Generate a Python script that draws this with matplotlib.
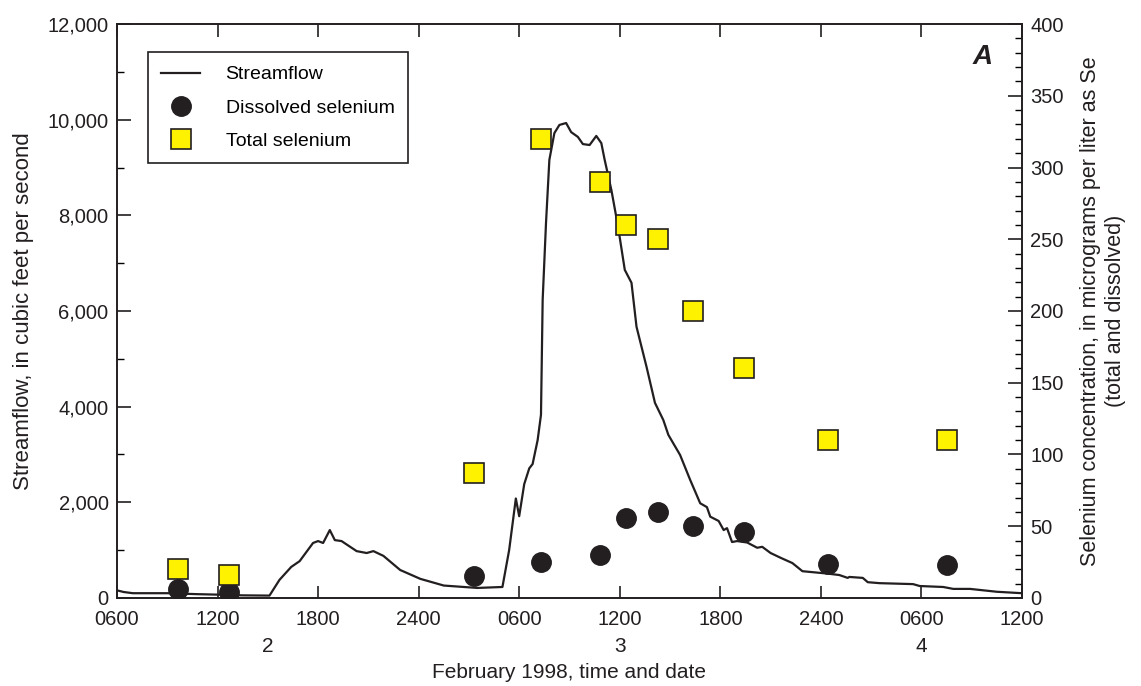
import matplotlib
matplotlib.use("Agg")
import matplotlib.pyplot as plt
from matplotlib.ticker import MultipleLocator, FuncFormatter

plt.rcParams['font.family'] = ['Liberation Sans', 'DejaVu Sans']

# hours since 0600, February 2, 1998
flow_hours = [0.0, 0.4, 0.95, 3.0, 4.8, 6.0, 7.5, 9.1, 9.7, 10.4, 10.9, 11.7, 12.0, 12.3,
              12.7, 13.0, 13.4, 14.3, 14.9, 15.3, 15.9, 16.9, 18.1, 19.5, 21.5, 23.0,
              23.4, 23.8, 24.0, 24.3, 24.6, 24.8, 25.1, 25.3, 25.4, 25.6, 25.8, 26.1,
              26.4, 26.8, 27.1, 27.5, 27.8, 28.2, 28.6, 28.9, 29.1, 29.5, 29.9, 30.3,
              30.7, 31.0, 31.6, 32.1, 32.6, 32.9, 33.6, 34.2, 34.8, 35.2, 35.4, 35.9,
              36.2, 36.4, 36.7, 37.0, 37.6, 38.2, 38.5, 39.0, 39.6, 40.3, 40.9, 42.4,
              43.1, 43.6, 43.7, 44.5, 44.8, 45.5, 47.5, 47.9, 49.3, 49.9, 50.9, 52.5, 54.0]
flow_cfs = [160, 125, 100, 100, 80, 70, 55, 50, 380, 650, 770, 1150, 1190, 1150,
            1420, 1210, 1190, 980, 940, 980, 880, 585, 400, 260, 210, 230,
            1000, 2080, 1710, 2380, 2710, 2800, 3300, 3830, 6230, 7840, 9160, 9720,
            9890, 9930, 9740, 9640, 9490, 9470, 9660, 9510, 9160, 8530, 7760, 6860,
            6590, 5670, 4830, 4080, 3720, 3410, 2990, 2470, 1980, 1900, 1700, 1610,
            1420, 1460, 1170, 1190, 1160, 1050, 1070, 940, 840, 730, 560, 510,
            480, 420, 440, 420, 330, 310, 290, 250, 230, 190, 190, 130, 100]

sample_hours = [3.65, 6.7, 21.3, 25.3, 28.8, 30.35, 32.3, 34.35, 37.4, 42.4, 49.5]
dissolved_se = [6, 4, 15, 25, 30, 56, 60, 50, 46, 24, 23]
total_se = [20, 16, 87, 320, 290, 260, 250, 200, 160, 110, 110]

tick_hours = list(range(0, 55, 6))
tick_labels = ['0600', '1200', '1800', '2400', '0600', '1200', '1800', '2400', '0600', '1200']
date_hours = [9, 30, 48]
date_labels = ['2', '3', '4']

ink = '#231f20'

fig = plt.figure(figsize=(11.41, 6.86), dpi=100)
ax = fig.add_axes([0.1025, 0.1283, 0.7932, 0.8367])
ax2 = ax.twinx()

line, = ax.plot(flow_hours, flow_cfs, color=ink, lw=1.6, label='Streamflow')
dis, = ax2.plot(sample_hours, dissolved_se, 'o', ms=14, color=ink, mec=ink,
                label='Dissolved selenium')
tot, = ax2.plot(sample_hours, total_se, 's', ms=14, color='#fff200', mec=ink,
                mew=1.2, label='Total selenium')

ax.set_xlim(0, 54)
ax.set_ylim(0, 12000)
ax2.set_ylim(0, 400)

ax.set_xticks(tick_hours)
ax.set_xticklabels(tick_labels)
ax.yaxis.set_major_locator(MultipleLocator(2000))
ax.yaxis.set_minor_locator(MultipleLocator(1000))
ax.yaxis.set_major_formatter(FuncFormatter(lambda v, p: f'{int(v):,}'))
ax2.yaxis.set_major_locator(MultipleLocator(50))
ax2.yaxis.set_minor_locator(MultipleLocator(10))

ax.tick_params(axis='x', which='major', direction='in', length=9, width=1.2, top=True,
               labelsize=14.5, pad=9, colors=ink)
ax.tick_params(axis='y', which='major', direction='in', length=10, width=1.2, labelsize=14.5,
               colors=ink, pad=6)
ax.tick_params(axis='y', which='minor', direction='in', length=5, width=1.0)
ax2.tick_params(axis='y', which='major', direction='in', length=10, width=1.2, labelsize=14.5,
                colors=ink, pad=6)
ax2.tick_params(axis='y', which='minor', direction='in', length=5, width=1.0)

for a in (ax, ax2):
    for s in a.spines.values():
        s.set_linewidth(1.2)
        s.set_color(ink)

for h, lab in zip(date_hours, date_labels):
    ax.text(h, -0.068, lab, transform=ax.get_xaxis_transform(), ha='center', va='top',
            fontsize=15, color=ink)

ax.set_xlabel('February 1998, time and date', fontsize=15, labelpad=24, color=ink)
ax.set_ylabel('Streamflow, in cubic feet per second', fontsize=16, labelpad=10, color=ink)
ax2.set_ylabel('Selenium concentration, in micrograms per liter as Se\n(total and dissolved)',
               fontsize=15.5, labelpad=12, color=ink, linespacing=1.2)

ax2.text(0.956, 0.965, 'A', transform=ax2.transAxes, ha='center', va='top', fontsize=20,
         fontweight='bold', fontstyle='italic', color=ink)

leg = ax2.legend(handles=[line, dis, tot], loc='upper left', bbox_to_anchor=(0.034, 0.951),
                 borderaxespad=0, fontsize=14, frameon=True, fancybox=False,
                 edgecolor=ink, framealpha=1, handlelength=2.0, handletextpad=1.3,
                 labelspacing=0.8, borderpad=0.7)
leg.get_frame().set_linewidth(1.2)

fig.savefig('out.png', dpi=100)
